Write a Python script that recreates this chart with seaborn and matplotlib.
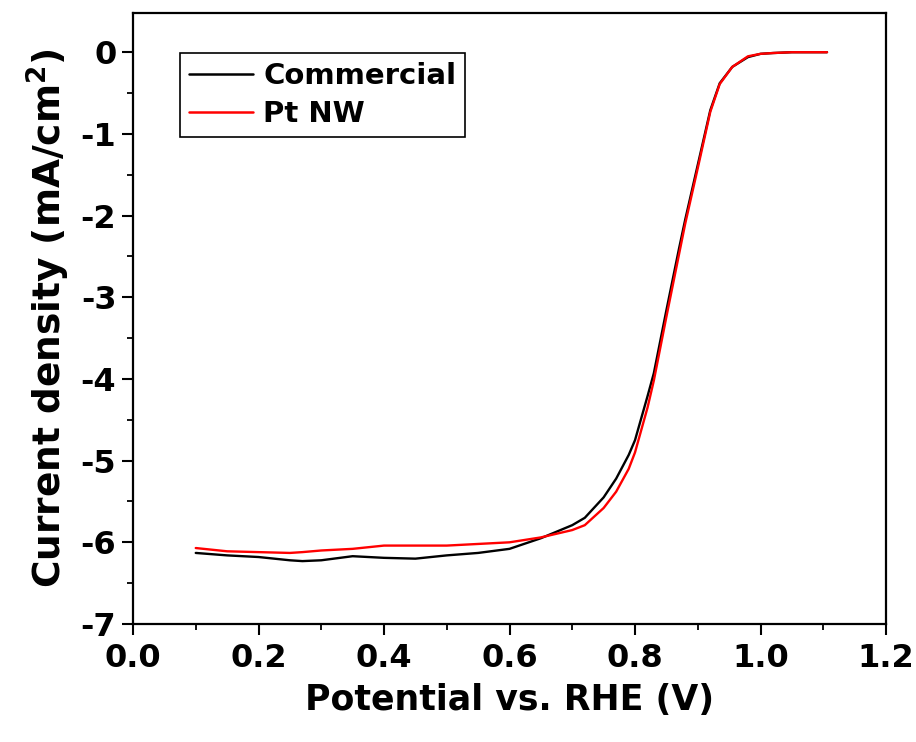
import numpy as np
import pandas as pd
import matplotlib
matplotlib.use("Agg")
import matplotlib.pyplot as plt
import seaborn as sns

# Data
potential = [0.10, 0.15, 0.20, 0.25, 0.27, 0.30, 0.35, 0.40, 0.45, 0.50, 0.55, 0.60,
             0.65, 0.70, 0.72, 0.75, 0.77, 0.79, 0.80, 0.82, 0.83, 0.85, 0.87, 0.88, 0.90,
             0.92, 0.935, 0.955, 0.98, 1.00, 1.02, 1.05, 1.106]
commercial = [-6.13, -6.16, -6.18, -6.22, -6.23, -6.22, -6.17, -6.19, -6.20, -6.16, -6.13, -6.08,
              -5.95, -5.79, -5.70, -5.45, -5.22, -4.93, -4.75, -4.21, -3.93, -3.16, -2.41, -2.05, -1.38,
              -0.71, -0.38, -0.18, -0.06, -0.02, -0.01, 0.0, 0.0]
pt_nw = [-6.07, -6.11, -6.12, -6.13, -6.12, -6.10, -6.08, -6.04, -6.04, -6.04, -6.02, -6.00,
         -5.94, -5.85, -5.79, -5.58, -5.38, -5.10, -4.90, -4.35, -4.02, -3.24, -2.48, -2.10, -1.42,
         -0.73, -0.39, -0.18, -0.05, -0.02, -0.01, 0.0, 0.0]
series_names = ["Commercial", "Pt NW"]
series_colors = ["#000000", "#ff0000"]
x_ticks = [0.0, 0.2, 0.4, 0.6, 0.8, 1.0, 1.2]
y_ticks = [0, -1, -2, -3, -4, -5, -6, -7]

df = pd.DataFrame({
    "Potential": potential * 2,
    "Current": commercial + pt_nw,
    "Sample": [series_names[0]] * len(potential) + [series_names[1]] * len(potential),
})

sns.set_theme(style="ticks")
plt.rcParams["font.family"] = ["DejaVu Sans"]
plt.rcParams["font.weight"] = "bold"
plt.rcParams["mathtext.default"] = "bf"
plt.rcParams["text.color"] = "black"
plt.rcParams["axes.labelcolor"] = "black"
plt.rcParams["xtick.color"] = "black"
plt.rcParams["ytick.color"] = "black"

fig = plt.figure(figsize=(9.16, 7.42), dpi=100)
ax = fig.add_axes([133/916, 1-624/742, (886-133)/916, (624-13)/742])

sns.lineplot(data=df, x="Potential", y="Current", hue="Sample",
             palette=dict(zip(series_names, series_colors)), estimator=None,
             sort=False, linewidth=1.7, ax=ax)

ax.set_xlim(0, 1.2)
ax.set_ylim(-7, 0.48)
ax.set_xticks(x_ticks)
ax.set_xticklabels([f"{t:.1f}" for t in x_ticks])
ax.set_yticks(y_ticks)
ax.set_yticklabels([str(t) for t in y_ticks])
ax.xaxis.set_minor_locator(matplotlib.ticker.MultipleLocator(0.1))
ax.yaxis.set_minor_locator(matplotlib.ticker.MultipleLocator(0.5))

for s in ax.spines.values():
    s.set_visible(True)
    s.set_linewidth(1.6)
    s.set_color("black")

ax.tick_params(which="major", direction="out", length=8, width=1.5, labelsize=23,
               colors="black", labelcolor="black", pad=6)
ax.tick_params(which="minor", direction="out", length=4.5, width=1.3, colors="black")
ax.tick_params(axis="y", which="major", pad=4)
for lab in ax.get_xticklabels() + ax.get_yticklabels():
    lab.set_fontweight("bold")
    lab.set_color("black")

ax.set_xlabel("Potential vs. RHE (V)", fontsize=25, fontweight="bold", labelpad=6, color="black")
ax.set_ylabel(r"Current density (mA/cm$^\mathbf{2}$)", fontsize=27, fontweight="bold",
              labelpad=6, color="black")

handles, labels = ax.get_legend_handles_labels()
leg = ax.legend(handles, labels, loc="upper left",
                bbox_to_anchor=(180/916, 1-53/742), bbox_transform=fig.transFigure,
                borderaxespad=0, fancybox=False, frameon=True, edgecolor="black",
                fontsize=21, handlelength=2.2, handletextpad=0.35, labelspacing=0.35,
                borderpad=0.3)
leg.get_frame().set_linewidth(1.2)
leg.get_frame().set_alpha(1)
for t in leg.get_texts():
    t.set_fontweight("bold")
    t.set_color("black")
for l in leg.get_lines():
    l.set_linewidth(1.8)

fig.savefig("out.png", dpi=100)
